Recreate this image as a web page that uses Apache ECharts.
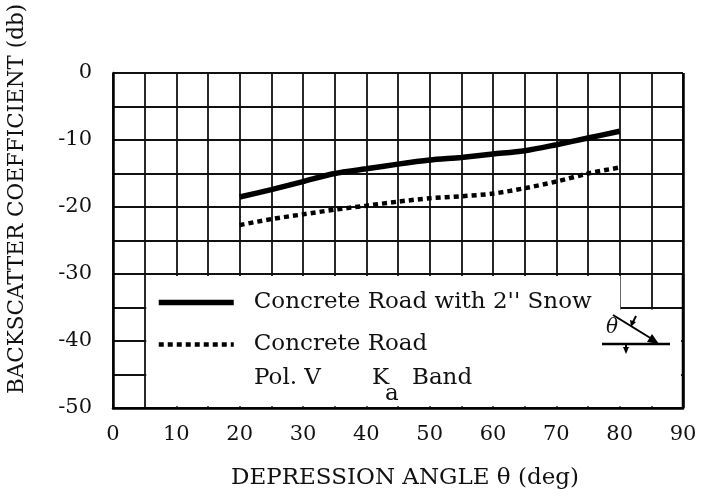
<!DOCTYPE html>
<html lang="en">
<head>
    <meta charset="UTF-8">
    <title>Backscatter coefficient</title>
    <script type="text/javascript" src="https://cdn.jsdelivr.net/npm/echarts@6/dist/echarts.min.js"></script>
    <style>
        html, body { margin: 0; padding: 0; background: #fff; }
    </style>
</head>
<body>
<div id="main" style="width: 701px;height:503px;"></div>
<script type="text/javascript">
    // values, every 5 degrees
    var angles = [20, 25, 30, 35, 40, 45, 50, 55, 60, 65, 70, 75, 80];
    var snowRoad = [-18.5, -17.4, -16.2, -15.0, -14.3, -13.6, -13.0, -12.6, -12.1, -11.6, -10.7, -9.7, -8.7];
    var bareRoad = [-22.7, -21.8, -21.1, -20.4, -19.8, -19.2, -18.7, -18.4, -18.0, -17.2, -16.2, -15.0, -14.1];
    var xTicks = [0, 10, 20, 30, 40, 50, 60, 70, 80, 90];
    var yTicks = [0, -10, -20, -30, -40, -50];

    var font = 'DejaVu Serif';
    var ink = '#111';
    var snowStyle = { color: '#000', width: 5.5 };
    var roadStyle = { color: '#000', width: 4.5, type: [5, 4] };

    function pairs(xs, ys) {
        var out = [];
        for (var i = 0; i < xs.length; i++) out.push([xs[i], ys[i]]);
        return out;
    }

    var myChart = echarts.init(document.getElementById('main'));
    myChart.setOption({
        animation: false,
        backgroundColor: '#fff',
        grid: { left: 113, right: 18, top: 73, bottom: 95, show: false },
        legend: {
            orient: 'vertical',
            left: 151,
            top: 286,
            itemWidth: 75,
            itemHeight: 14,
            itemGap: 19,
            itemStyle: { opacity: 0 },
            textStyle: { fontFamily: font, fontSize: 23, color: ink, padding: [0, 0, 0, 15] },
            data: [
                { name: "Concrete Road with 2'' Snow", lineStyle: snowStyle },
                { name: 'Concrete Road', lineStyle: roadStyle }
            ]
        },
        xAxis: {
            type: 'value',
            min: 0, max: 90, interval: 5,
            name: 'DEPRESSION ANGLE \u03b8 (deg)',
            nameLocation: 'middle',
            nameGap: 59,
            nameTextStyle: { fontFamily: font, fontSize: 23, color: ink, padding: [0, 0, 0, 14] },
            axisLine: { onZero: false, lineStyle: { color: '#000', width: 2.5 } },
            axisTick: { show: false },
            axisLabel: {
                margin: 16, fontFamily: font, fontSize: 21, color: ink,
                formatter: function (v) { return xTicks.indexOf(v) >= 0 ? String(v) : ''; }
            },
            splitLine: { show: true, lineStyle: { color: ink, width: 1.8 } }
        },
        yAxis: {
            type: 'value',
            min: -50, max: 0, interval: 5,
            axisLine: { show: true, onZero: false, lineStyle: { color: '#000', width: 2.5 } },
            axisTick: { show: false },
            axisLabel: {
                margin: 21, fontFamily: font, fontSize: 21, color: ink,
                formatter: function (v) { return yTicks.indexOf(v) >= 0 ? String(v) : ''; }
            },
            splitLine: { show: true, lineStyle: { color: ink, width: 1.8 } }
        },
        series: [
            {
                name: "Concrete Road with 2'' Snow",
                type: 'line',
                data: pairs(angles, snowRoad),
                smooth: 0.3,
                symbol: 'none',
                itemStyle: { color: '#000' },
                lineStyle: snowStyle,
                z: 5,
                // white box holding the legend, leaves the notch at 80-90 / -30..-35
                markArea: {
                    silent: true,
                    itemStyle: { color: '#fff' },
                    data: [
                        [{ coord: [5.25, -30.3] }, { coord: [80.1, -49.75] }],
                        [{ coord: [79.9, -35.3] }, { coord: [89.7, -49.75] }]
                    ]
                },
                // frame edge on the right, over the white box
                markLine: {
                    silent: true,
                    symbol: 'none',
                    label: { show: false },
                    lineStyle: { color: '#000', width: 2.5, type: 'solid' },
                    data: [[{ coord: [90, -50] }, { coord: [90, 0] }]]
                }
            },
            {
                name: 'Concrete Road',
                type: 'line',
                data: pairs(angles, bareRoad),
                smooth: 0.3,
                symbol: 'none',
                itemStyle: { color: '#000' },
                lineStyle: roadStyle,
                z: 5
            }
        ],
        graphic: [
            {
                type: 'text', x: 17, y: 199, rotation: Math.PI / 2, z: 20,
                style: { text: 'BACKSCATTER COEFFICIENT (db)', font: '21.5px "DejaVu Serif"', fill: ink, textAlign: 'center', textVerticalAlign: 'middle' }
            },
            { type: 'text', left: 254, top: 367, z: 20, style: { text: 'Pol. V', font: '23px "DejaVu Serif"', fill: ink } },
            { type: 'text', left: 372, top: 367, z: 20, style: { text: 'K', font: '23px "DejaVu Serif"', fill: ink } },
            { type: 'text', left: 385, top: 383, z: 20, style: { text: 'a', font: '23px "DejaVu Serif"', fill: ink } },
            { type: 'text', left: 412, top: 367, z: 20, style: { text: 'Band', font: '23px "DejaVu Serif"', fill: ink } },
            // incidence sketch
            { type: 'line', z: 20, shape: { x1: 602, y1: 344, x2: 670, y2: 344 }, style: { stroke: '#000', lineWidth: 2.5 } },
            { type: 'line', z: 20, shape: { x1: 613, y1: 315, x2: 652, y2: 339 }, style: { stroke: '#000', lineWidth: 2 } },
            { type: 'polygon', z: 20, shape: { points: [[659, 344], [647, 342], [652, 334]] }, style: { fill: '#000' } },
            { type: 'line', z: 20, shape: { x1: 636, y1: 316, x2: 633, y2: 322 }, style: { stroke: '#000', lineWidth: 2 } },
            { type: 'polygon', z: 20, shape: { points: [[631, 327], [630, 320], [636, 322]] }, style: { fill: '#000' } },
            { type: 'line', z: 20, shape: { x1: 626, y1: 344, x2: 626, y2: 349 }, style: { stroke: '#000', lineWidth: 2 } },
            { type: 'polygon', z: 20, shape: { points: [[626, 354], [623, 347], [629, 347]] }, style: { fill: '#000' } },
            {
                type: 'text', left: 606, top: 318, z: 20,
                style: { text: '\u03b8', font: 'italic 20px "DejaVu Serif"', fill: ink }
            }
        ]
    });

    // right frame edge beside the legend box, placed through the axes
    var pTop = myChart.convertToPixel({ gridIndex: 0 }, [90, -30]);
    var pBot = myChart.convertToPixel({ gridIndex: 0 }, [90, -50]);
    myChart.setOption({
        graphic: [{
            id: 'rightEdge', type: 'line', z: 30,
            shape: { x1: pTop[0], y1: pTop[1], x2: pBot[0], y2: pBot[1] },
            style: { stroke: '#000', lineWidth: 2.5 }
        }]
    });
</script>
</body>
</html>
